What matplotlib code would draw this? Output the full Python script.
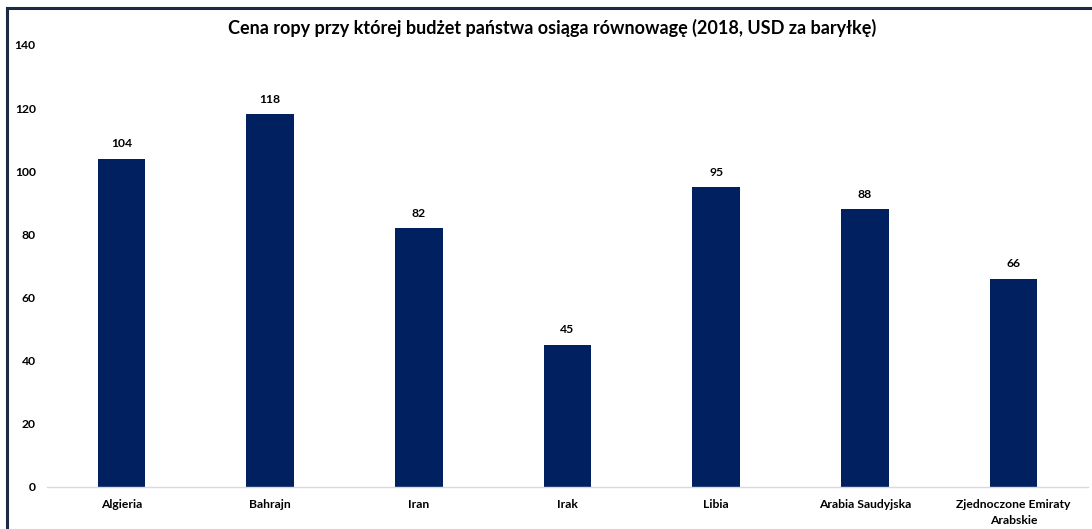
import matplotlib
matplotlib.use("Agg")
import matplotlib.pyplot as plt
from matplotlib.lines import Line2D

categories = ["Algieria", "Bahrajn", "Iran", "Irak", "Libia", "Arabia Saudyjska", "Zjednoczone Emiraty\nArabskie"]
values = [104, 118, 82, 45, 95, 88, 66]
yticks = [0, 20, 40, 60, 80, 100, 120, 140]
title = "Cena ropy przy której budżet państwa osiąga równowagę (2018, USD za baryłkę)"

plt.rcParams['font.family'] = ['Lato', 'DejaVu Sans']

fig = plt.figure(figsize=(10.92, 5.29), dpi=100)
ax = fig.add_axes([0.043, 0.0794, 0.9533, 0.8356])

x = list(range(len(categories)))
ax.bar(x, values, width=0.32, color="#002060", zorder=2)
for xi, v in zip(x, values):
    ax.text(xi, v + 3, str(v), ha="center", va="bottom", fontsize=8.7, fontweight="bold", color="#000000")

ax.set_xlim(-0.5, len(categories) - 0.5)
ax.set_ylim(0, 140)
ax.set_yticks(yticks)
ax.set_yticklabels([str(t) for t in yticks], fontsize=8.7, fontweight="bold")
ax.set_xticks(x)
ax.set_xticklabels(categories, fontsize=8.7, fontweight="bold", linespacing=1.5)
ax.tick_params(axis="both", length=0, pad=8)
ax.tick_params(axis="x", pad=9)
for s in ["top", "right", "left"]:
    ax.spines[s].set_visible(False)
ax.spines["bottom"].set_color("#d9d9d9")
ax.spines["bottom"].set_linewidth(1)

fig.text(0.506, 0.947, title, ha="center", va="center", fontsize=13, fontweight="bold")

# frame lines (left and top)
fig.add_artist(Line2D([7/1092, 7/1092], [0, 1 - 8/529], transform=fig.transFigure, color="#1c2a44", linewidth=2.2))
fig.add_artist(Line2D([7/1092, 1], [1 - 8/529, 1 - 8/529], transform=fig.transFigure, color="#1c2a44", linewidth=2.2))

fig.savefig("out.png", dpi=100)
